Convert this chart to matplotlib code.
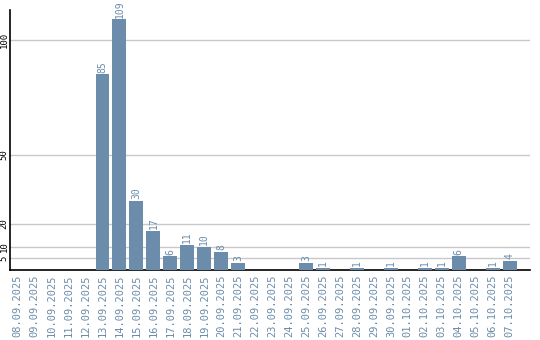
import matplotlib
matplotlib.use("Agg")
from matplotlib import pyplot as plt
import numpy as np

dates = ["08.09.2025", "09.09.2025", "10.09.2025", "11.09.2025", "12.09.2025",
         "13.09.2025", "14.09.2025", "15.09.2025", "16.09.2025", "17.09.2025",
         "18.09.2025", "19.09.2025", "20.09.2025", "21.09.2025", "22.09.2025",
         "23.09.2025", "24.09.2025", "25.09.2025", "26.09.2025", "27.09.2025",
         "28.09.2025", "29.09.2025", "30.09.2025", "01.10.2025", "02.10.2025",
         "03.10.2025", "04.10.2025", "05.10.2025", "06.10.2025", "07.10.2025"]
counts = [0, 0, 0, 0, 0, 85, 109, 30, 17, 6,
          11, 10, 8, 3, 0, 0, 0, 3, 1, 0,
          1, 0, 1, 0, 1, 1, 6, 0, 1, 4]
yticks = [5, 10, 20, 50, 100]

bar_color = "#6b8caa"
mono = "DejaVu Sans Mono"

fig = plt.figure(figsize=(5.4, 3.4), dpi=100)
ax = fig.add_axes([10 / 540, 70 / 340, 520 / 540, 260 / 340])

x = np.arange(len(dates))
ax.bar(x, counts, width=0.82, color=bar_color, zorder=3)

# value labels, rotated, just above each bar
for xi, v in zip(x, counts):
    if v > 0:
        ax.text(xi, v + 0.7, str(v), rotation=90, ha="center", va="bottom",
                color=bar_color, fontsize=7, family=mono, zorder=4)

ax.set_xlim(-0.45, 30.2)
ax.set_ylim(0, 113)
ax.set_yticks(yticks)
ax.set_yticklabels([str(t) for t in yticks], rotation=90, va="center",
                   fontsize=6.5, family=mono)
ax.yaxis.grid(True, color="#c8c8c8", linewidth=1, zorder=0)
ax.set_xticks(x)
ax.set_xticklabels(dates, rotation=90, fontsize=7.5, family=mono, color=bar_color)
ax.tick_params(axis="both", length=0, pad=3)
ax.tick_params(axis="y", pad=1)

for side in ["top", "right"]:
    ax.spines[side].set_visible(False)
ax.spines["left"].set_linewidth(1.2)
ax.spines["bottom"].set_linewidth(1.2)

fig.savefig("out.png", dpi=100)
